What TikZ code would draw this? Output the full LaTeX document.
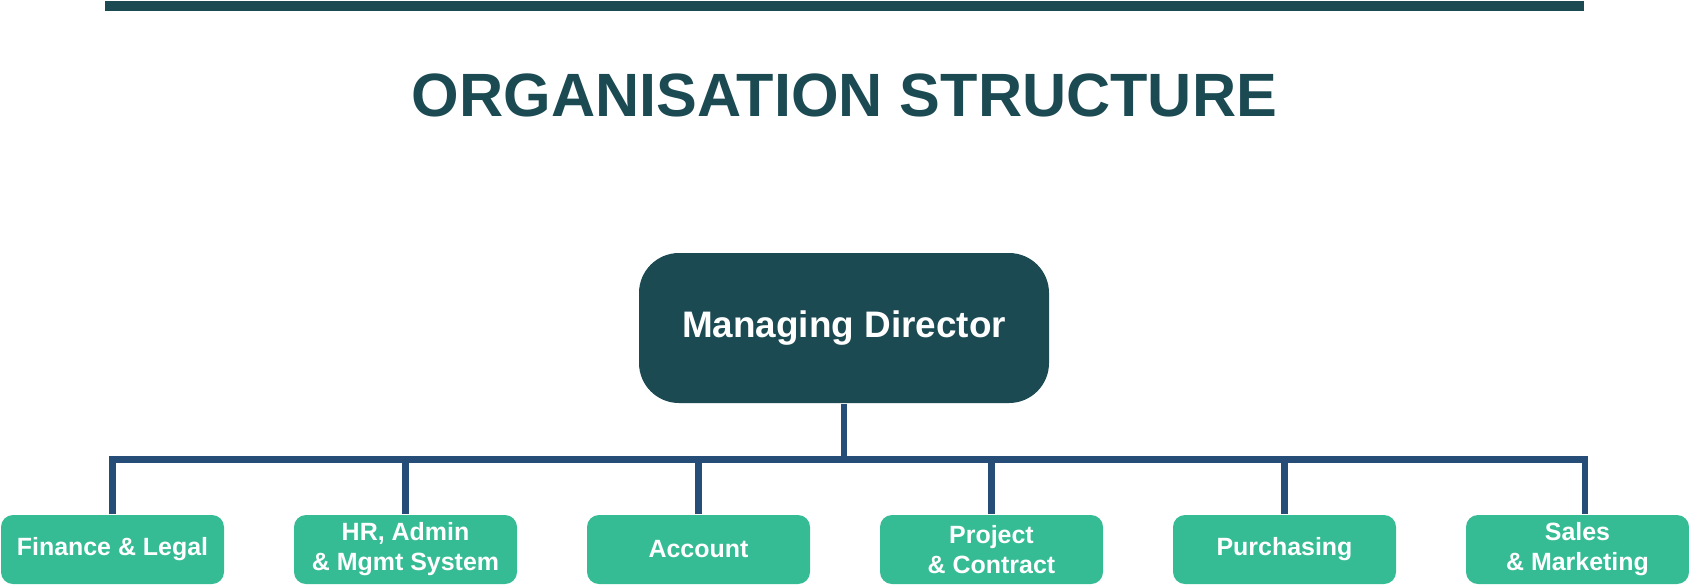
\documentclass[tikz,border=0pt]{standalone}
\usepackage{fontspec}
\setmainfont{Liberation Sans}
\definecolor{mdteal}{HTML}{1B4A53}
\definecolor{deptgreen}{HTML}{36BC94}
\definecolor{linkblue}{HTML}{264C78}
\begin{document}
\begin{tikzpicture}[
  mdbox/.style={fill=mdteal,rounded corners=0.4cm,minimum width=4.1cm,minimum height=1.5cm,inner sep=0pt,text=white,font=\fontsize{10.5}{12}\selectfont\bfseries},
  deptbox/.style={fill=deptgreen,rounded corners=0.12cm,minimum width=2.23cm,minimum height=0.69cm,inner sep=0pt,text=white,align=center,font=\fontsize{7.1}{8.5}\selectfont\bfseries},
  link/.style={draw=linkblue,line width=0.065cm}]
\pgfmathsetmacro{\kdx}{2.93}
\useasboundingbox (0,0) rectangle (16.89,5.85);
\fill[mdteal] (1.05,5.74) rectangle (15.84,5.84);
\node[anchor=base,text=mdteal,font=\fontsize{17.4}{20}\selectfont\bfseries] (title) at (8.445,4.69) {ORGANISATION STRUCTURE};
\node[mdbox] (md) at (8.44,2.57) {Managing Director};
\foreach \n/\t [count=\i from 0] in {fin/{Finance \& Legal},hr/{HR, Admin\\\& Mgmt System},acc/{Account},pro/{Project\\\& Contract},pur/{Purchasing},sal/{Sales\\\& Marketing}}
  \node[deptbox] (\n) at (1.125+\i*\kdx,0.355) {\t};
% connectors
\draw[link] (md.south) -- ++(0,-0.56) coordinate (hub);
\draw[link] (fin.north) |- (hub) -| ([xshift=0.075cm]sal.north);
\foreach \n in {hr,acc,pro,pur}
  \draw[link] (\n.north) -- (\n.north |- hub);
\end{tikzpicture}
\end{document}
